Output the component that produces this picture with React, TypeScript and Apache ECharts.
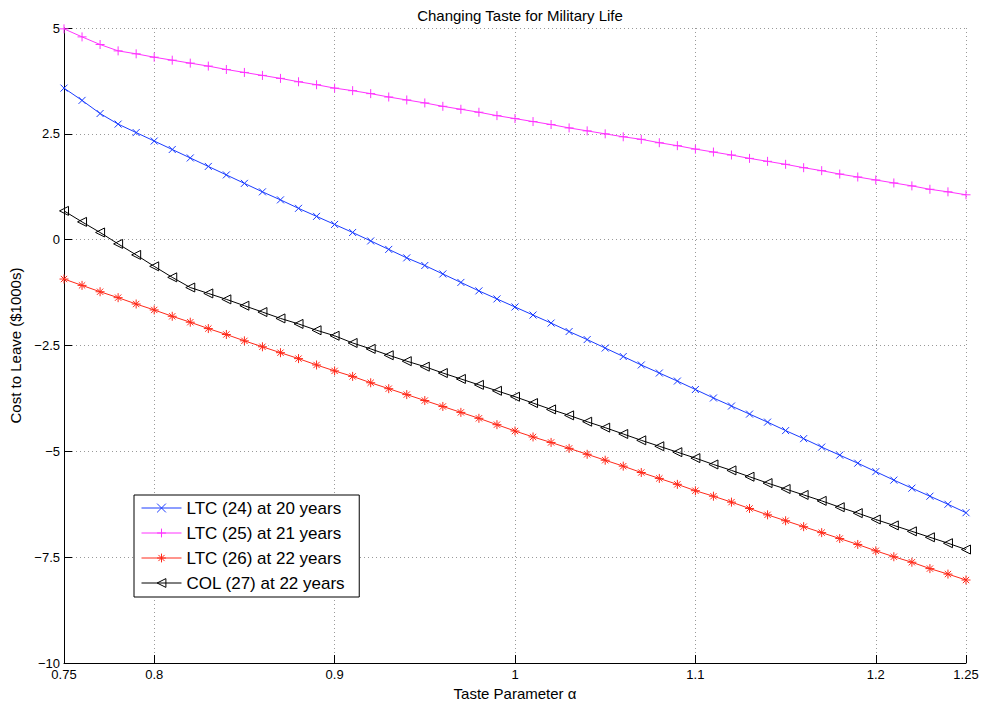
import React, { useEffect, useRef } from "react";
import * as echarts from "echarts";

const alpha = [
  0.75, 0.76, 0.77, 0.78, 0.79, 0.8, 0.81, 0.82, 0.83, 0.84, 0.85, 0.86, 0.87,
  0.88, 0.89, 0.9, 0.91, 0.92, 0.93, 0.94, 0.95, 0.96, 0.97, 0.98, 0.99, 1.0,
  1.01, 1.02, 1.03, 1.04, 1.05, 1.06, 1.07, 1.08, 1.09, 1.1, 1.11, 1.12, 1.13,
  1.14, 1.15, 1.16, 1.17, 1.18, 1.19, 1.2, 1.21, 1.22, 1.23, 1.24, 1.25,
];

const ltc24 = [
  3.58, 3.29, 2.98, 2.73, 2.53, 2.33, 2.13, 1.93, 1.73, 1.53, 1.33, 1.13, 0.94,
  0.74, 0.55, 0.36, 0.17, -0.03, -0.23, -0.43, -0.61, -0.81, -1.01, -1.21, -1.4,
  -1.59, -1.78, -1.97, -2.17, -2.36, -2.56, -2.76, -2.96, -3.15, -3.34, -3.54,
  -3.74, -3.93, -4.12, -4.31, -4.51, -4.7, -4.9, -5.09, -5.28, -5.48, -5.68,
  -5.87, -6.06, -6.25, -6.45,
];

const ltc25 = [
  4.98, 4.79, 4.61, 4.46, 4.39, 4.31, 4.24, 4.17, 4.1, 4.02, 3.95, 3.88, 3.81,
  3.73, 3.66, 3.58, 3.52, 3.45, 3.37, 3.3, 3.23, 3.15, 3.08, 3.01, 2.93, 2.86,
  2.79, 2.72, 2.64, 2.57, 2.5, 2.43, 2.37, 2.29, 2.22, 2.14, 2.07, 2.0, 1.92,
  1.85, 1.78, 1.7, 1.63, 1.55, 1.48, 1.41, 1.34, 1.27, 1.19, 1.13, 1.06,
];

const ltc26 = [
  -0.93, -1.08, -1.23, -1.37, -1.52, -1.66, -1.81, -1.95, -2.1, -2.24, -2.39,
  -2.53, -2.67, -2.81, -2.96, -3.1, -3.23, -3.38, -3.52, -3.66, -3.8, -3.94,
  -4.08, -4.22, -4.37, -4.52, -4.66, -4.79, -4.93, -5.07, -5.21, -5.35, -5.5,
  -5.64, -5.78, -5.93, -6.06, -6.2, -6.35, -6.5, -6.64, -6.78, -6.92, -7.06,
  -7.2, -7.35, -7.49, -7.62, -7.77, -7.9, -8.04,
];

const col27 = [
  0.68, 0.42, 0.17, -0.1, -0.36, -0.63, -0.89, -1.13, -1.27, -1.41, -1.56,
  -1.71, -1.86, -1.99, -2.14, -2.27, -2.44, -2.58, -2.73, -2.87, -3.0, -3.15,
  -3.29, -3.43, -3.57, -3.71, -3.86, -4.01, -4.15, -4.3, -4.44, -4.59, -4.74,
  -4.88, -5.02, -5.16, -5.31, -5.45, -5.6, -5.75, -5.89, -6.03, -6.17, -6.32,
  -6.46, -6.61, -6.75, -6.89, -7.03, -7.17, -7.32,
];

const xTicks = [0.75, 0.8, 0.9, 1.0, 1.1, 1.2, 1.25];
const yTicks = [-10, -7.5, -5, -2.5, 0, 2.5, 5];

const seriesNames = [
  "LTC (24) at 20 years",
  "LTC (25) at 21 years",
  "LTC (26) at 22 years",
  "COL (27) at 22 years",
];

const title = "Changing Taste for Military Life";
const xName = "Taste Parameter α";
const yName = "Cost to Leave ($1000s)";

const FONT = "'Liberation Sans', Arial, Helvetica, sans-serif";

const SYM_X = "path://M0,0L10,10M0,10L10,0";
const SYM_PLUS = "path://M5,0L5,10M0,5L10,5";
const SYM_STAR = "path://M5,0L5,10M0,5L10,5M1.5,1.5L8.5,8.5M1.5,8.5L8.5,1.5";
const SYM_TRI = "path://M0,5L9,0L9,10Z";

function mkSeries(name: string, ys: number[], color: string, symbol: string, size: number) {
  return {
    name,
    type: "line",
    data: alpha.map((a, i) => [a, ys[i]]),
    color,
    symbol,
    symbolSize: size,
    showAllSymbol: true,
    lineStyle: { color, width: 1 },
    itemStyle: { color: "rgba(0,0,0,0)", borderColor: color, borderWidth: 1 },
    emphasis: { disabled: true },
  };
}

export default function App() {
  const ref = useRef<HTMLDivElement>(null);
  useEffect(() => {
    if (!ref.current) return;
    const chart = echarts.init(ref.current, undefined, { renderer: "svg" });
    chart.setOption({
      animation: false,
      backgroundColor: "#fff",
      textStyle: { fontFamily: FONT },
      title: {
        text: title,
        left: 515,
        top: 3,
        textAlign: "center",
        textStyle: { fontSize: 15, fontWeight: "normal", color: "#000", fontFamily: FONT },
      },
      grid: {
        left: 64,
        right: 16,
        top: 28,
        bottom: 42,
        containLabel: false,
        outerBoundsMode: "none",
      },
      legend: {
        orient: "vertical",
        left: 134,
        top: 495,
        itemWidth: 40,
        itemHeight: 11,
        itemGap: 5,
        padding: [3, 14, 4, 7],
        borderColor: "#000",
        borderWidth: 1,
        backgroundColor: "#fff",
        itemStyle: { color: "rgba(0,0,0,0)", borderWidth: 1 },
        lineStyle: { width: 1 },
        textStyle: { fontSize: 17, color: "#000", fontFamily: FONT, lineHeight: 20 },
        data: seriesNames,
      },
      xAxis: {
        type: "value",
        min: 0.75,
        max: 1.25,
        interval: 0.05,
        name: xName,
        nameLocation: "middle",
        nameGap: 22,
        nameTextStyle: { fontSize: 15, color: "#000", fontFamily: FONT },
        axisLine: { onZero: false, lineStyle: { color: "#000", width: 1 } },
        axisTick: { inside: true, length: 8, lineStyle: { color: "#000" }, customValues: xTicks },
        axisLabel: {
          fontSize: 13,
          color: "#000",
          margin: 5,
          customValues: xTicks,
          showMinLabel: true,
          showMaxLabel: true,
          formatter: (v: number) => String(+v.toFixed(2)),
        },
        splitLine: { show: true, lineStyle: { color: "#999", type: [1, 3], width: 1 } },
      },
      yAxis: {
        type: "value",
        min: -10,
        max: 5,
        interval: 2.5,
        name: yName,
        nameLocation: "middle",
        nameGap: 38,
        nameRotate: 90,
        nameTextStyle: { fontSize: 15, color: "#000", fontFamily: FONT },
        axisLine: { show: true, onZero: false, lineStyle: { color: "#000", width: 1 } },
        axisTick: { show: true, inside: true, length: 8, lineStyle: { color: "#000" }, customValues: yTicks },
        axisLabel: {
          fontSize: 13,
          color: "#000",
          margin: 4,
          customValues: yTicks,
          formatter: (v: number) => (v < 0 ? "\u2212" : "") + String(Math.abs(v)),
        },
        splitLine: { show: true, lineStyle: { color: "#999", type: [1, 3], width: 1 } },
      },
      series: [
        mkSeries(seriesNames[0], ltc24, "#1a3cff", SYM_X, 7),
        mkSeries(seriesNames[1], ltc25, "#ff33ff", SYM_PLUS, 9),
        mkSeries(seriesNames[2], ltc26, "#ff2a1a", SYM_STAR, 9),
        mkSeries(seriesNames[3], col27, "#000000", SYM_TRI, 9),
      ],
    });
    return () => chart.dispose();
  }, []);
  return (
    <div
      ref={ref}
      style={{ position: "fixed", left: 0, top: 0, width: 982, height: 705 }}
    />
  );
}
